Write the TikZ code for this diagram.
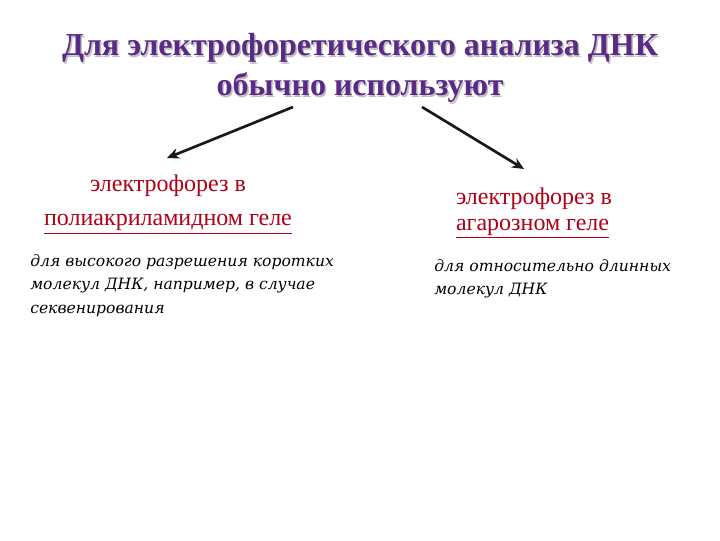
\documentclass[tikz,border=0pt]{standalone}
\usepackage{fontspec}
\setmainfont{Liberation Serif}
\newfontfamily\bodyfont{DejaVu Serif}
\usetikzlibrary{arrows.meta}
\definecolor{titlepurple}{HTML}{5A2A86}
\definecolor{subred}{HTML}{B00018}
\tikzset{
  titletext/.style={font=\fontsize{24}{30}\selectfont\bfseries, text=titlepurple, align=center, inner sep=0pt},
  shadowtext/.style={font=\fontsize{24}{30}\selectfont\bfseries, text=black!25, align=center, inner sep=0pt},
  subtext/.style={font=\fontsize{18}{25.5}\selectfont, text=subred, align=center, inner sep=0pt},
  subtextr/.style={font=\fontsize{18}{20}\selectfont, text=subred, align=left, inner sep=0pt},
  bodytext/.style={font=\bodyfont\fontsize{11.7}{17.6}\selectfont\itshape, text=black, align=left, inner sep=0pt, anchor=north west},
  branch/.style={-{Stealth[length=9pt,width=8pt]}, line width=2pt, black!90}
}
\begin{document}
\begin{tikzpicture}[x=0.75pt,y=-0.75pt]
\useasboundingbox (0,0) rectangle (720,540);
\node[shadowtext] (tshadow) at (361.5,69.5) {Для электрофоретического анализа ДНК\\обычно используют};
\node[titletext] (title) at (360,68) {Для электрофоретического анализа ДНК\\обычно используют};
\node[subtext] (left) at (168,204.5) {электрофорез в\\\underline{полиакриламидном геле}};
\node[subtextr] (right) at (534,213) {электрофорез в\\\underline{агарозном геле}};
\node[bodytext] (lbody) at (30,254) {для высокого разрешения коротких\\молекул ДНК, например, в случае\\секвенирования};
\node[bodytext] (rbody) at (434,259) {для относительно длинных\\молекул ДНК};
\coordinate (ls) at (293,107);
\coordinate (le) at (167,158);
\coordinate (rs) at (422,107);
\coordinate (re) at (524,169);
\draw[branch] (ls) -- (le);
\draw[branch] (rs) -- (re);
\end{tikzpicture}
\end{document}
